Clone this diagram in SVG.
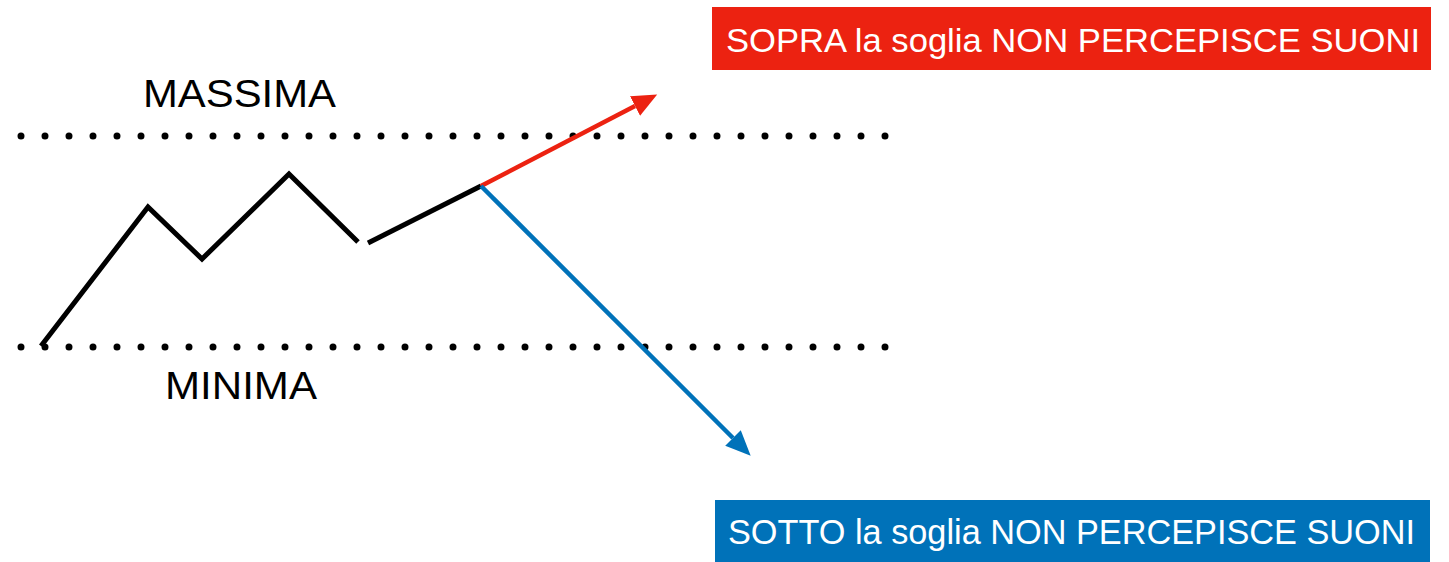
<svg xmlns="http://www.w3.org/2000/svg" width="1449" height="562" viewBox="0 0 1449 562">
<style>
.dots{stroke:#000;stroke-width:7;stroke-linecap:round;stroke-dasharray:0 24;fill:none}
.wave{stroke:#000;stroke-width:5;fill:none;stroke-linejoin:miter}
.lbl{font-family:"Liberation Sans",Arial,sans-serif;fill:#000}
.box{font-family:"Liberation Sans",Arial,sans-serif;fill:#fff}
</style>
<defs>
<marker id="ahR" markerUnits="userSpaceOnUse" markerWidth="26" markerHeight="24" refX="0" refY="11" orient="auto"><path d="M0,0 L25,11 L0,22 z" fill="#EC2211"/></marker>
<marker id="ahB" markerUnits="userSpaceOnUse" markerWidth="26" markerHeight="24" refX="0" refY="11" orient="auto"><path d="M0,0 L25,11 L0,22 z" fill="#0072B9"/></marker>
</defs>
<rect width="1449" height="562" fill="#fff"/>
<g id="thresholds">
<line class="dots" x1="21" y1="136" x2="890" y2="136"/>
<line class="dots" x1="21" y1="347" x2="890" y2="347"/>
</g>
<g id="label-massima"><text class="lbl" x="143" y="107" font-size="38" textLength="193" lengthAdjust="spacingAndGlyphs">MASSIMA</text></g>
<g id="label-minima"><text class="lbl" x="165" y="399" font-size="38" textLength="152" lengthAdjust="spacingAndGlyphs">MINIMA</text></g>
<g id="wave">
<polyline class="wave" points="41,346 148,207 202,259 289,174 358,242"/>
<line class="wave" x1="368" y1="243" x2="481" y2="186"/>
</g>
<g id="connectors">
<line x1="481" y1="186" x2="635" y2="106" stroke="#EC2211" stroke-width="4.5" marker-end="url(#ahR)"/>
<line x1="481" y1="186" x2="733" y2="438" stroke="#0072B9" stroke-width="4.5" marker-end="url(#ahB)"/>
</g>
<g id="box-sopra">
<rect x="712" y="7" width="719" height="63" fill="#EC2211"/>
<text class="box" x="726" y="52" font-size="34" textLength="694" lengthAdjust="spacingAndGlyphs">SOPRA la soglia NON PERCEPISCE SUONI</text>
</g>
<g id="box-sotto">
<rect x="715" y="500" width="715" height="62" fill="#0072B9"/>
<text class="box" x="728" y="544" font-size="35" textLength="687" lengthAdjust="spacingAndGlyphs">SOTTO la soglia NON PERCEPISCE SUONI</text>
</g>
</svg>
